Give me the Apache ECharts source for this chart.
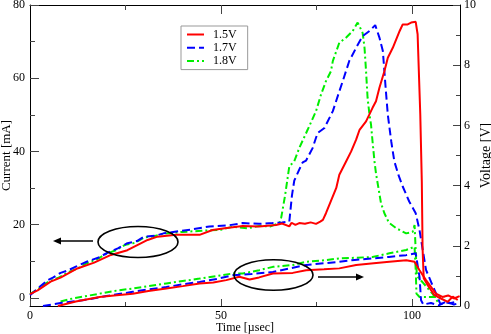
<!DOCTYPE html>
<html>
<head>
<meta charset="utf-8">
<script src="https://cdn.jsdelivr.net/npm/echarts@6/dist/echarts.min.js"></script>
<style>
html,body{margin:0;padding:0;background:#fff;}
#chart{width:491px;height:334px;}
</style>
</head>
<body>
<div id="chart"></div>
<script>
// ---- Data (time in µsec) ----
// Current [mA]
const t15I = [0, 2, 5.4, 8, 12.4, 16.8, 21.2, 25.5, 28.1, 30.8, 33.4, 38.3, 44.4, 47.8, 51, 55.7, 60, 64.4, 66, 67.9, 68.5, 69.5, 70.5, 72, 73.5, 74.9, 76, 76.7, 77.5, 80.2, 81, 82.8, 84.1, 85.4, 86.3, 88, 89.7, 90.6, 91.5, 92.8, 93.7, 95, 95.9, 96.8, 97.6, 98.9, 99.8, 101, 101.5, 102.2, 102.6, 102.8, 103.1, 104.1, 105.9, 107.6, 109.4, 110.7, 112];
const i15 = [1, 2, 4.4, 5.5, 8, 9.6, 11.7, 13, 14.4, 15.8, 16.7, 17.2, 17.2, 18.5, 19, 19.6, 19.5, 19.9, 20.3, 19.5, 20.5, 19.9, 20.4, 20.2, 20.6, 20.2, 20.8, 21.3, 23.1, 30, 33.6, 37.3, 40, 43.2, 45.9, 48.2, 51.9, 53.7, 57.4, 61.9, 65.6, 68.3, 70.6, 72.9, 74.7, 74.7, 75.2, 75.4, 72, 50, 31.8, 13.5, 5.3, 3.5, 0.7, -0.2, -1.1, 0.3, -0.6];

const t17I = [0, 2, 4.6, 6, 8, 10, 12, 15, 18, 20.3, 23, 25.5, 28, 29.9, 33, 35, 38.3, 42, 47, 52, 55.7, 60, 63.5, 66, 67.9, 68.6, 69.2, 70.5, 71.4, 72.3, 74, 75.3, 77.1, 77.5, 79.3, 81, 81.9, 83.6, 85.4, 87.1, 88.9, 90.4, 91.5, 92.4, 92.8, 93.2, 93.7, 94.6, 95.4, 96.5, 97.6, 99.3, 101, 102, 103.7, 106.3, 107.5, 108.5, 110, 112];
const i17 = [0.7, 2.5, 4.8, 5.5, 6.8, 7.5, 8.5, 9.9, 11, 12.3, 13.5, 14.9, 15.5, 16.7, 17, 17.6, 18.1, 18.6, 19.5, 19.8, 20.4, 20.2, 20.4, 20.6, 20.8, 28, 32, 35, 37, 37.5, 40.9, 45, 46.4, 46.4, 51, 56.4, 59.2, 64.7, 68.3, 71.5, 72.9, 74.5, 71.1, 67.4, 61.9, 56.4, 50, 42.7, 37.3, 33.5, 30.4, 26.3, 23.1, 18.5, 7.6, 1.2, -1.8, -1.2, -1.5, -1.0];

const t18I = [0, 2, 5, 7.5, 10, 12.5, 15, 17.5, 20, 22.5, 25, 27.5, 30, 32.5, 35, 40, 45, 50, 53, 57, 60, 63, 65.3, 65.8, 66.8, 67.9, 69.2, 70.5, 72.7, 74.9, 76.2, 77.5, 78.8, 79.3, 81, 82.8, 84.5, 85.8, 87.1, 87.6, 88, 88.4, 88.9, 89.3, 89.7, 90.2, 90.6, 91.9, 92.8, 94, 95.9, 98.5, 100.2, 100.7, 101.3, 103, 105.5, 107];
const i18 = [1, 2.3, 4.5, 5.5, 7, 8, 9.5, 10.5, 12, 13, 14.5, 15, 16.5, 16.8, 17.5, 18, 18.3, 18.6, 19.4, 19, 19.6, 19.5, 20.5, 22, 28, 35.9, 37.3, 40.9, 45.9, 51, 55.5, 59.2, 61.9, 64.7, 69.7, 71.1, 72.9, 75.2, 72.4, 68.3, 61.9, 54.6, 50, 47.3, 42.7, 37.3, 34, 25.9, 23.1, 20.5, 19, 17.6, 18, 19.9, 6, 4, 1, -1.5];

// Voltage [V]
const t15V = [7.3, 12, 18.2, 22, 26.9, 31, 35.7, 40, 44.4, 48, 51.4, 54.8, 57.5, 60, 63.6, 68.8, 72.3, 77, 81, 85.4, 90, 94.1, 98.5, 100.7, 102, 103.7, 106.3, 108, 109.5, 111, 112.5];
const v15 = [0, 0.15, 0.3, 0.35, 0.41, 0.5, 0.58, 0.66, 0.75, 0.78, 0.86, 0.97, 0.88, 0.95, 1.08, 1.1, 1.19, 1.22, 1.25, 1.36, 1.42, 1.47, 1.52, 1.47, 1.19, 0.86, 0.41, 0.3, 0.35, 0.25, 0.33];

const t17V = [3.4, 8, 13.8, 20, 26.9, 31, 35.7, 40, 44.4, 49, 53.1, 58, 63.6, 68, 72.3, 77, 81, 85, 89.7, 94, 98.5, 101, 102, 102.4, 103, 105, 107, 109, 111, 112.5];
const v17 = [0, 0.1, 0.19, 0.33, 0.47, 0.55, 0.63, 0.72, 0.8, 0.9, 1.02, 1.06, 1.13, 1.25, 1.36, 1.42, 1.47, 1.53, 1.58, 1.63, 1.69, 1.75, 0.97, 0.19, 0.05, 0.1, 0.02, 0.15, 0.05, 0.1];

const t18V = [8, 11.2, 18.2, 22, 26.9, 31, 35.7, 40, 44.4, 49, 53.1, 55.7, 60, 63.6, 68.8, 72.3, 77, 81, 85, 89.7, 94.1, 98.5, 100.7, 101, 101.2, 102, 105, 108.5];
const v18 = [0.15, 0.25, 0.41, 0.5, 0.58, 0.66, 0.75, 0.83, 0.91, 1.0, 1.08, 1.08, 1.19, 1.3, 1.36, 1.47, 1.52, 1.58, 1.6, 1.63, 1.75, 1.86, 1.97, 1.2, 0.41, 0.3, 0.3, 0.3];

// Tick values
const xMajorTicks = [0, 50, 100];
const xMinorTicks = [25, 75];
const yIMajorTicks = [0, 20, 40, 60, 80];
const yIMinorTicks = [10, 30, 50, 70];
const yVMajorTicks = [0, 2, 4, 6, 8, 10];
const yVMinorTicks = [1, 3, 5, 7, 9];
const seriesNames = ['1.5V', '1.7V', '1.8V'];

const FONT = 'Liberation Serif';
const zip = (a, b) => a.map((x, i) => [x, b[i]]);

const chart = echarts.init(document.getElementById('chart'), null, {renderer: 'canvas'});

const X_MIN = 0, X_MAX = 112.6;
const I_MIN = -2.25, I_MAX = 80;
const lineCol = '#000';

function xAx(pos, ticks, len, showLine, labels) {
  return {
    type: 'value', position: pos, min: X_MIN, max: X_MAX,
    axisLine: {show: showLine, onZero: false, lineStyle: {color: lineCol, width: 1}},
    axisTick: {show: true, inside: true, length: len, customValues: ticks, lineStyle: {color: '#444', width: 1}},
    axisLabel: labels ? {show: true, customValues: labels, color: '#000', fontFamily: FONT, fontSize: 12, margin: 4} : {show: false},
    splitLine: {show: false}
  };
}
function yAx(pos, min, max, ticks, len, showLine, labels, extra) {
  return Object.assign({
    type: 'value', position: pos, min: min, max: max,
    axisLine: {show: showLine, onZero: false, lineStyle: {color: lineCol, width: 1}},
    axisTick: {show: true, inside: true, length: len, customValues: ticks, lineStyle: {color: '#444', width: 1}},
    axisLabel: labels ? {show: true, customValues: labels, color: '#000', fontFamily: FONT, fontSize: 12, margin: pos === 'left' ? 5 : 4} : {show: false},
    splitLine: {show: false}
  }, extra || {});
}

const xAxes = [
  Object.assign(xAx('bottom', xMajorTicks, 7, true, xMajorTicks), {
    name: 'Time [\u00b5sec]', nameLocation: 'middle', nameGap: 16, nameMoveOverlap: false,
    nameTextStyle: {fontFamily: FONT, fontSize: 12, color: '#000'}
  }),
  xAx('bottom', xMinorTicks, 4, false, null),
  xAx('top', [50, 100], 9, true, null),
  xAx('top', xMinorTicks, 5, false, null)
];
const yAxes = [
  yAx('left', I_MIN, I_MAX, yIMajorTicks, 9, true, yIMajorTicks, {
    name: 'Current [mA]', nameLocation: 'middle', nameGap: 17, nameRotate: 90, nameMoveOverlap: false,
    nameTextStyle: {fontFamily: FONT, fontSize: 13, color: '#000'}
  }),
  yAx('right', 0, 10, yVMajorTicks, 7, true, yVMajorTicks, {
    name: 'Voltage [V]', nameLocation: 'middle', nameGap: 19, nameRotate: 90, nameMoveOverlap: false,
    nameTextStyle: {fontFamily: FONT, fontSize: 14, color: '#000'}
  }),
  yAx('left', I_MIN, I_MAX, yIMinorTicks, 5, false, null),
  yAx('right', 0, 10, yVMinorTicks, 4, false, null)
];

const styles = [
  {color: '#ff0000', type: 'solid'},
  {color: '#0000ff', type: [8, 4]},
  {color: '#00ee00', type: [7, 3, 2, 3]}
];
function mk(idx, data, yIndex) {
  return {
    name: seriesNames[idx], type: 'line', xAxisIndex: 0, yAxisIndex: yIndex,
    data: data, showSymbol: false, symbol: 'none', smooth: false, animation: false,
    lineStyle: {color: styles[idx].color, width: 2, type: styles[idx].type},
    itemStyle: {color: styles[idx].color}, z: 3 - idx + 2
  };
}

const series = [
  mk(0, zip(t15I, i15), 0),
  mk(1, zip(t17I, i17), 0),
  mk(2, zip(t18I, i18), 0),
  mk(0, zip(t15V, v15), 1),
  mk(1, zip(t17V, v17), 1),
  mk(2, zip(t18V, v18), 1)
];

function arrow(x1, x2, y) {
  const dir = x2 > x1 ? 1 : -1;
  return [
    {type: 'line', shape: {x1: x1, y1: y, x2: x2 - dir * 5, y2: y}, style: {stroke: '#000', lineWidth: 1.6}, z: 10},
    {type: 'polygon', shape: {points: [[x2, y], [x2 - dir * 8, y - 3.5], [x2 - dir * 8, y + 3.5]]}, style: {fill: '#000'}, z: 10}
  ];
}

chart.setOption({
  animation: false,
  backgroundColor: '#fff',
  grid: {left: 30, right: 31, top: 5, bottom: 28, containLabel: false, outerBoundsMode: 'none'},
  legend: {
    data: seriesNames, orient: 'vertical', left: 181, top: 26,
    itemWidth: 17, itemHeight: 13, itemGap: 0.3,
    padding: [2, 11, 2, 5],
    borderColor: '#999', borderWidth: 1, backgroundColor: '#fff',
    itemStyle: {opacity: 0},
    textStyle: {fontFamily: FONT, fontSize: 12, color: '#000', lineHeight: 13, padding: [0, 0, 0, 4]},
    selectedMode: false
  },
  xAxis: xAxes,
  yAxis: yAxes,
  series: series,
  graphic: [
    {type: 'ellipse', shape: {cx: 138, cy: 242, rx: 40, ry: 15.5}, style: {fill: null, stroke: '#000', lineWidth: 1.6}, z: 10},
    {type: 'ellipse', shape: {cx: 273.5, cy: 275, rx: 39.5, ry: 15.3}, style: {fill: null, stroke: '#000', lineWidth: 1.6}, z: 10},
    ...arrow(93, 53, 241),
    ...arrow(318, 364, 277)
  ]
});
</script>
</body>
</html>
